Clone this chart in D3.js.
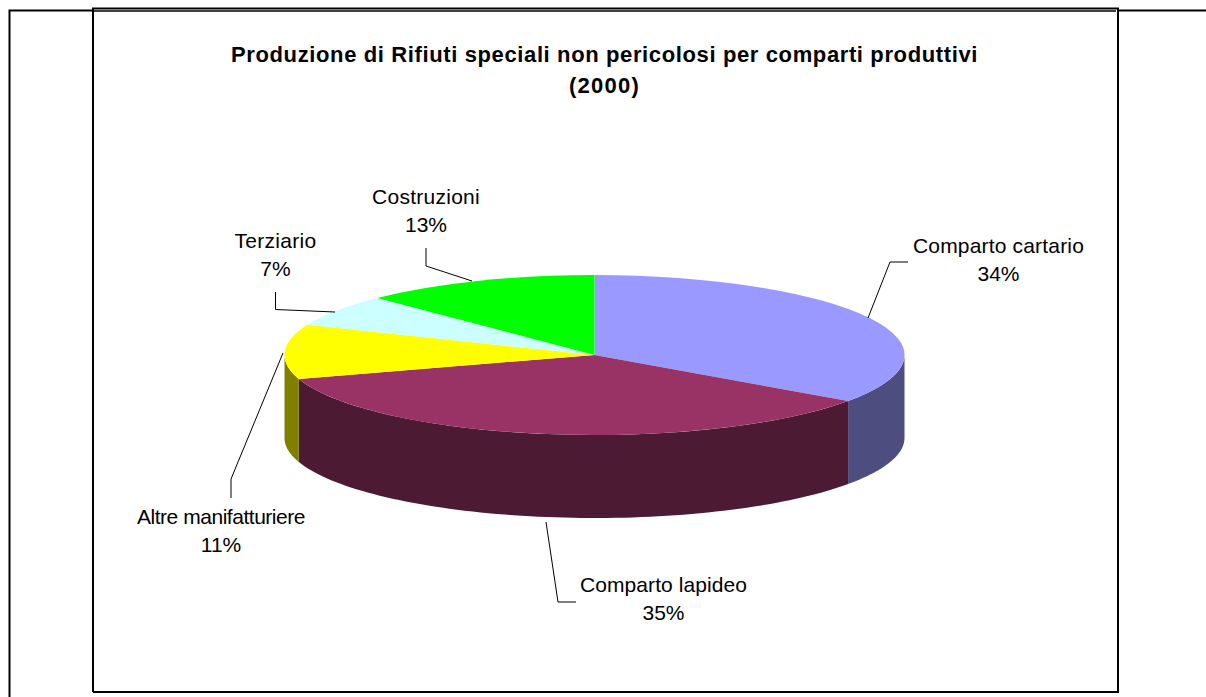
<!DOCTYPE html>
<html><head><meta charset="utf-8">
<script src="https://cdn.jsdelivr.net/npm/d3@7/dist/d3.min.js"></script>
<style>html,body{margin:0;padding:0;background:#fff}svg{display:block}
text{font-family:"Liberation Sans",Arial,sans-serif;fill:#000}</style></head>
<body><div id="chart"></div>
<script>
const categories = ["Comparto cartario","Comparto lapideo","Altre manifatturiere","Terziario","Costruzioni"];
const values = [34.75,35.4,11.0,6.5,12.35];
const percentLabels = ["34%","35%","11%","7%","13%"];
const topColors = ["#9999FF","#993366","#FFFF00","#CCFFFF","#00FF00"];
const sideColors = ["#4D4D80","#4D1A33","#808000","#668080","#008000"];
const titleLines = ["Produzione di Rifiuti speciali non pericolosi per comparti produttivi","(2000)"];

const W=1206,H=697,cx=594.5,cy=355,rx=310,ry=80,depth=83;
const labelPos=[[998.5,252.5],[663.5,591.5],[221,523.5],[275.5,247.5],[426,203.5]];
const labelWidths=[171,167,168,82,108];
const titleWidths=[747,71];
const leaders=[
 [[868,318],[890,262],[908,262]],
 [[546,522],[558,602],[576,602]],
 [[283,353],[231,479],[231,498]],
 [[275.5,292],[275.5,309.5],[335,312]],
 [[426,248],[426,266],[472,281]]];

const svg=d3.select("#chart").append("svg").attr("width",W).attr("height",H);
const frame=(d,w,c)=>svg.append("path").attr("d",d).attr("fill","none").attr("stroke",c||"#000").attr("stroke-width",w);
frame("M9.5,697V10.5H1206",2);
svg.append("rect").attr("x",92).attr("y",8).attr("width",1026).attr("height",684).attr("fill","#fff").attr("stroke","none");
frame("M93,692V8.5H1118V692H93",2);
frame("M94,11H1116",1.4);

const fit=(sel,widthOf)=>sel.each(function(d,i){
  const len=this.getComputedTextLength(), n=this.textContent.length;
  d3.select(this).attr("letter-spacing",(widthOf(i)-len)/n);
});

svg.selectAll("text.title").data(titleLines).join("text").attr("class","title")
 .attr("x",604.5).attr("y",(d,i)=>61.5+i*31).attr("text-anchor","middle")
 .attr("font-size",22).attr("font-weight","bold").text(d=>d)
 .call(fit,i=>titleWidths[i]);

const pie=d3.pie().sort(null).startAngle(0).endAngle(2*Math.PI);
const arcs=pie(values);
const ex=a=>cx+rx*Math.sin(a), ey=a=>cy-ry*Math.cos(a);
const wall=d3.area().x(ex).y0(ey).y1(a=>ey(a)+depth);
arcs.forEach((d,i)=>{
  const a0=Math.max(d.startAngle,Math.PI/2), a1=Math.min(d.endAngle,1.5*Math.PI);
  if(a1<=a0) return;
  const n=80, pts=d3.range(n+1).map(k=>a0+(a1-a0)*k/n);
  svg.append("path").attr("d",wall(pts)).attr("fill",sideColors[i]);
});
const arc=d3.arc().innerRadius(0).outerRadius(rx);
svg.append("g").attr("transform",`translate(${cx},${cy}) scale(1,${ry/rx})`)
 .selectAll("path").data(arcs).join("path").attr("d",arc).attr("fill",(d,i)=>topColors[i]);

const line=d3.line();
svg.selectAll("path.leader").data(leaders).join("path").attr("class","leader")
 .attr("d",line).attr("fill","none").attr("stroke","#000").attr("stroke-width",1);

const lab=svg.selectAll("g.label").data(categories).join("g").attr("class","label")
 .attr("transform",(d,i)=>`translate(${labelPos[i][0]},${labelPos[i][1]})`).attr("text-anchor","middle").attr("font-size",21);
lab.append("text").text(d=>d).call(fit,i=>labelWidths[i]);
lab.append("text").attr("y",28.5).text((d,i)=>percentLabels[i]);
</script></body></html>
